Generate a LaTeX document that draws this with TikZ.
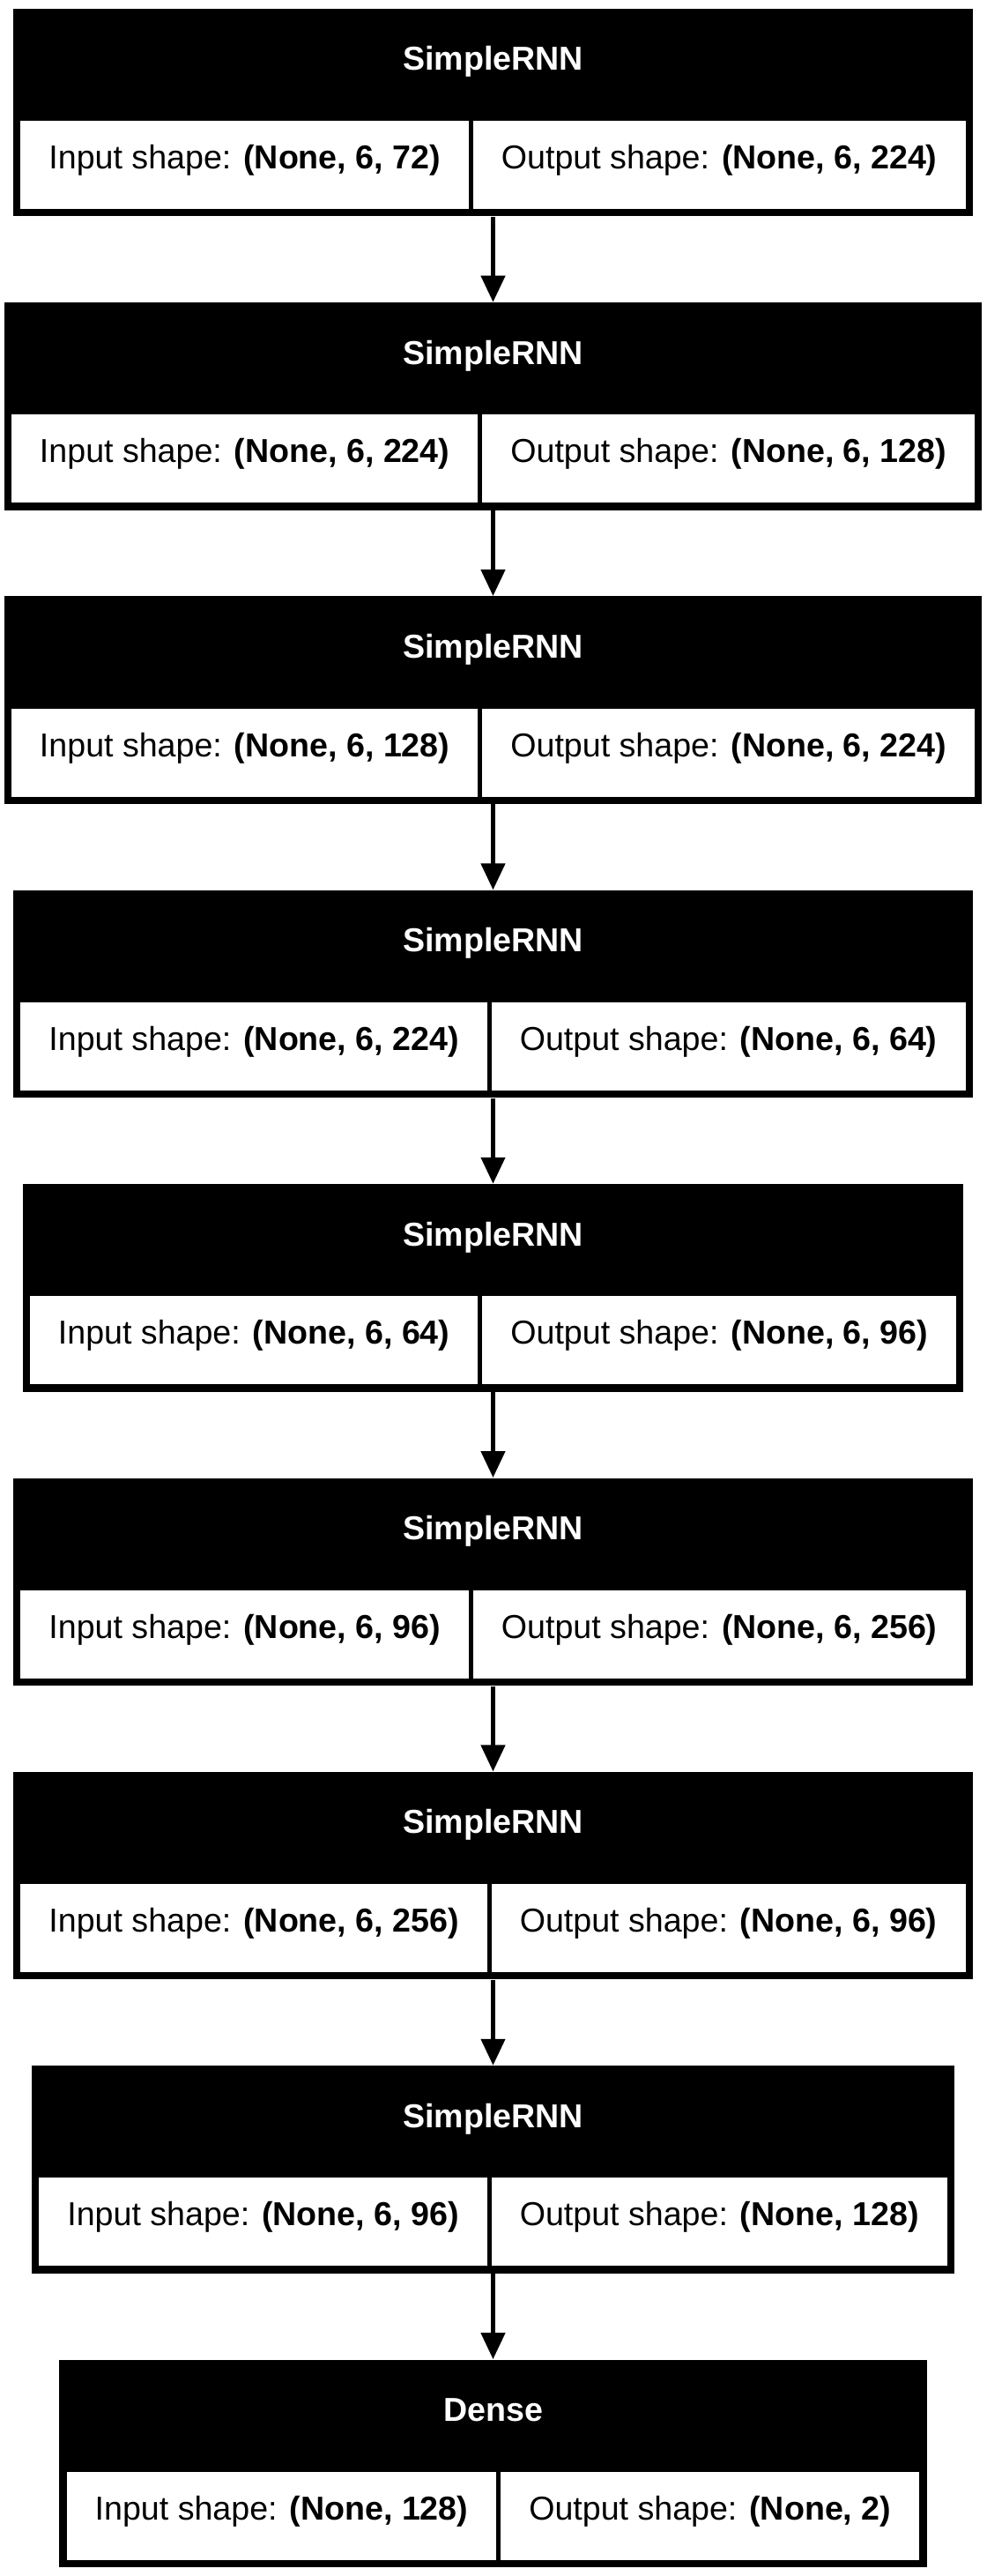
\documentclass[tikz,border=0pt]{standalone}
\usepackage{fontspec}
\setmainfont{Liberation Sans}
\usepackage{tikz}
\usetikzlibrary{matrix,fit,positioning,arrows.meta,backgrounds}
\tikzstyle{line} = [draw, line width=2.5pt, -{Triangle[length=15pt,width=13.4pt]}]
\tikzstyle{cellbox} = [rectangle, fill=white, minimum height=50pt, inner xsep=16pt, inner ysep=0pt, text height=0.75em, text depth=0.3em]
\tikzstyle{headbox} = [rectangle, text=white, font=\fontsize{18.8pt}{22pt}\selectfont\bfseries, minimum height=59pt, inner sep=0pt, text height=0.65em, text depth=0.4em]
\tikzstyle{shapebox} = [matrix, column sep=2.5pt, inner sep=0pt]
\tikzstyle{layerbox} = [rectangle, fill=black, inner sep=4pt]
\newcommand{\shp}[2]{#1 shape: \textbf{#2}}

\begin{document}
\begin{tikzpicture}[font=\fontsize{18.8pt}{22pt}\selectfont, node distance=166.67pt]

\useasboundingbox (-279.75pt,-1367.5pt) rectangle (279.75pt,93.5pt);

\matrix (shape1) [shapebox] at (0,0) {
  \node [cellbox] {\shp{Input}{(None, 6, 72)}}; & \node [cellbox] {\shp{Output}{(None, 6, 224)}}; \\
};
\node (head1) [headbox, above=0pt of shape1] {SimpleRNN};

\matrix (shape2) [shapebox, below of=shape1] {
  \node [cellbox] {\shp{Input}{(None, 6, 224)}}; & \node [cellbox] {\shp{Output}{(None, 6, 128)}}; \\
};
\node (head2) [headbox, above=0pt of shape2] {SimpleRNN};

\matrix (shape3) [shapebox, below of=shape2] {
  \node [cellbox] {\shp{Input}{(None, 6, 128)}}; & \node [cellbox] {\shp{Output}{(None, 6, 224)}}; \\
};
\node (head3) [headbox, above=0pt of shape3] {SimpleRNN};

\matrix (shape4) [shapebox, below of=shape3] {
  \node [cellbox] {\shp{Input}{(None, 6, 224)}}; & \node [cellbox] {\shp{Output}{(None, 6, 64)}}; \\
};
\node (head4) [headbox, above=0pt of shape4] {SimpleRNN};

\matrix (shape5) [shapebox, below of=shape4] {
  \node [cellbox] {\shp{Input}{(None, 6, 64)}}; & \node [cellbox] {\shp{Output}{(None, 6, 96)}}; \\
};
\node (head5) [headbox, above=0pt of shape5] {SimpleRNN};

\matrix (shape6) [shapebox, below of=shape5] {
  \node [cellbox] {\shp{Input}{(None, 6, 96)}}; & \node [cellbox] {\shp{Output}{(None, 6, 256)}}; \\
};
\node (head6) [headbox, above=0pt of shape6] {SimpleRNN};

\matrix (shape7) [shapebox, below of=shape6] {
  \node [cellbox] {\shp{Input}{(None, 6, 256)}}; & \node [cellbox] {\shp{Output}{(None, 6, 96)}}; \\
};
\node (head7) [headbox, above=0pt of shape7] {SimpleRNN};

\matrix (shape8) [shapebox, below of=shape7] {
  \node [cellbox] {\shp{Input}{(None, 6, 96)}}; & \node [cellbox] {\shp{Output}{(None, 128)}}; \\
};
\node (head8) [headbox, above=0pt of shape8] {SimpleRNN};

\matrix (shape9) [shapebox, below of=shape8] {
  \node [cellbox] {\shp{Input}{(None, 128)}}; & \node [cellbox] {\shp{Output}{(None, 2)}}; \\
};
\node (head9) [headbox, above=0pt of shape9] {Dense};

\begin{scope}[on background layer]
\node (layer1) [layerbox, fit=(shape1)(head1)] {};
\node (layer2) [layerbox, fit=(shape2)(head2)] {};
\node (layer3) [layerbox, fit=(shape3)(head3)] {};
\node (layer4) [layerbox, fit=(shape4)(head4)] {};
\node (layer5) [layerbox, fit=(shape5)(head5)] {};
\node (layer6) [layerbox, fit=(shape6)(head6)] {};
\node (layer7) [layerbox, fit=(shape7)(head7)] {};
\node (layer8) [layerbox, fit=(shape8)(head8)] {};
\node (layer9) [layerbox, fit=(shape9)(head9)] {};
\end{scope}

\path [line] (layer1) -- (layer2);
\path [line] (layer2) -- (layer3);
\path [line] (layer3) -- (layer4);
\path [line] (layer4) -- (layer5);
\path [line] (layer5) -- (layer6);
\path [line] (layer6) -- (layer7);
\path [line] (layer7) -- (layer8);
\path [line] (layer8) -- (layer9);

\end{tikzpicture}
\end{document}
